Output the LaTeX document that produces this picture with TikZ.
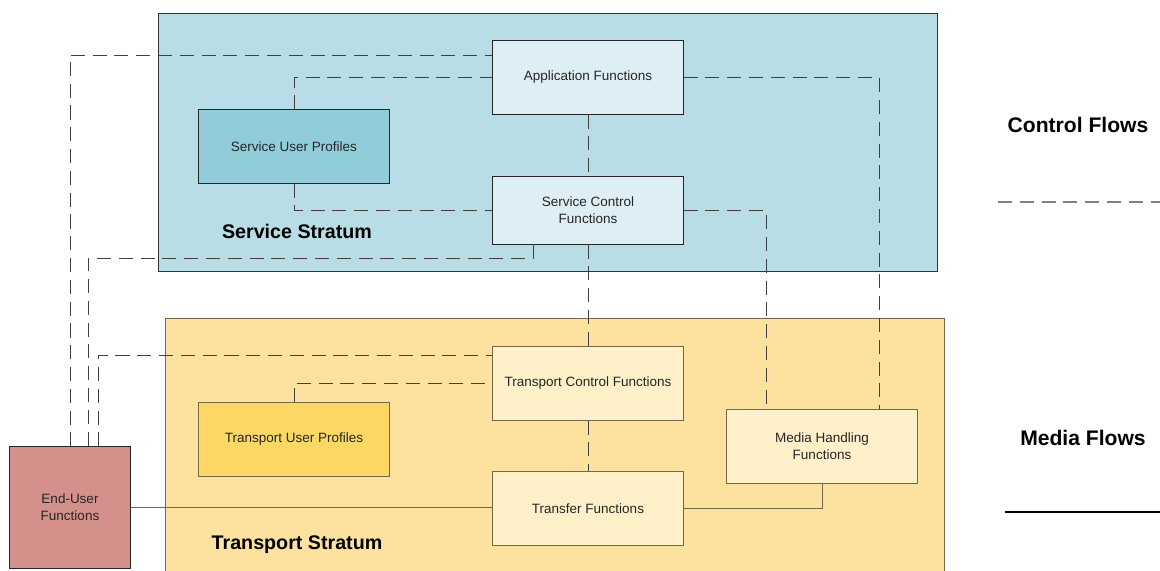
\documentclass[tikz,border=0pt]{standalone}
\usepackage{fontspec}
\setmainfont{Liberation Sans}
\usepackage{xcolor}
\usetikzlibrary{calc,positioning}

\definecolor{svcbg}{RGB}{184,221,231}
\definecolor{svcbox}{RGB}{222,238,245}
\definecolor{svcprof}{RGB}{145,204,219}
\definecolor{trbg}{RGB}{252,226,158}
\definecolor{trbox}{RGB}{254,240,200}
\definecolor{trprof}{RGB}{253,215,102}
\definecolor{eubox}{RGB}{212,144,139}
\definecolor{trline}{RGB}{120,104,72}

\begin{document}
\begin{tikzpicture}[x=0.025cm,y=-0.025cm,
  fbox/.style={rectangle, draw=gray!30!black, line width=0.7pt, minimum width=4.75cm, minimum height=1.825cm,
    align=center, text=black!85, font=\fontsize{9.6}{12}\selectfont},
  tbox/.style={fbox, draw=trline},
  ctrl/.style={draw=black!75, line width=0.7pt, dash pattern=on 10pt off 5.5pt},
  media/.style={draw=trline, line width=0.7pt},
  stratum/.style={font=\fontsize{14}{16}\selectfont\bfseries}]
  \useasboundingbox (0,0) rectangle (1160,571); %整体画布大小

  % 两个层
  \filldraw[fill=svcbg, draw=gray!40!black, line width=0.7pt] (158,13) rectangle (937,271);
  \filldraw[fill=trbg, draw=trline, line width=0.7pt] (165,318) rectangle (944,575);
  \node[stratum] (svclabel) at (297,231) {Service Stratum};
  \node[stratum] (trlabel) at (297,545) {Transport Stratum};

  % 功能模块
  \node[fbox, fill=svcbox] (app) at (588,77.5) {Application Functions};
  \node[fbox, fill=svcprof] (sup) at (294,146.5) {Service User Profiles};
  \node[fbox, fill=svcbox, minimum height=1.675cm] (scf) at (588,210.5) {Service Control\\Functions};
  \node[tbox, fill=trbox] (tcf) at (588,383.5) {Transport Control Functions};
  \node[tbox, fill=trprof] (tup) at (294,439.5) {Transport User Profiles};
  \node[tbox, fill=trbox] (tf) at (588,508.5) {Transfer Functions};
  \node[tbox, fill=trbox] (mhf) at (822,446.5) {Media Handling\\Functions};
  \node[fbox, fill=eubox, minimum width=3cm, minimum height=3.025cm] (eu) at (70,507.5) {End-User\\Functions};

  % 控制流 虚线
  \draw[ctrl] (eu.north) |- ($(app.west)+(0,-22.5)$);
  \draw[ctrl] (sup.north) |- (app.west);
  \draw[ctrl] (sup.south) |- (scf.west);
  \draw[ctrl] (app) -- (scf);
  \draw[ctrl] (app.east) -| ($(mhf.north)+(57,0)$);
  \draw[ctrl] (scf.east) -| ($(mhf.north)+(-56,0)$);
  \draw[ctrl] ($(scf.south)+(-55,0)$) -- ++(0,14) -| ($(eu.north)+(18,0)$);
  \draw[ctrl] (scf) -- (tcf);
  \draw[ctrl] ($(eu.north)+(28,0)$) |- ($(tcf.west)+(0,-28.5)$);
  \draw[ctrl] (tup.north) |- (tcf.west);
  \draw[ctrl] (tcf) -- (tf);

  % 媒体流 实线
  \draw[media] (eu.east) -- (eu.east -| tf.west);
  \draw[media] (tf.east) -| (mhf.south);

  % 图例
  \node[stratum, font=\fontsize{15}{17}\selectfont\bfseries] (ctrlleg) at (1078,125) {Control Flows};
  \node[stratum, font=\fontsize{15}{17}\selectfont\bfseries] (medleg) at (1083,438) {Media Flows};
  \coordinate (cl1) at (998,202);
  \coordinate (cl2) at (1160,202);
  \coordinate (ml1) at (1005,512);
  \coordinate (ml2) at (1160,512);
  \draw[ctrl, draw=black!50, line width=1.2pt] (cl1) -- (cl2);
  \draw[line width=0.8pt] (ml1) -- (ml2);
\end{tikzpicture}
\end{document}
